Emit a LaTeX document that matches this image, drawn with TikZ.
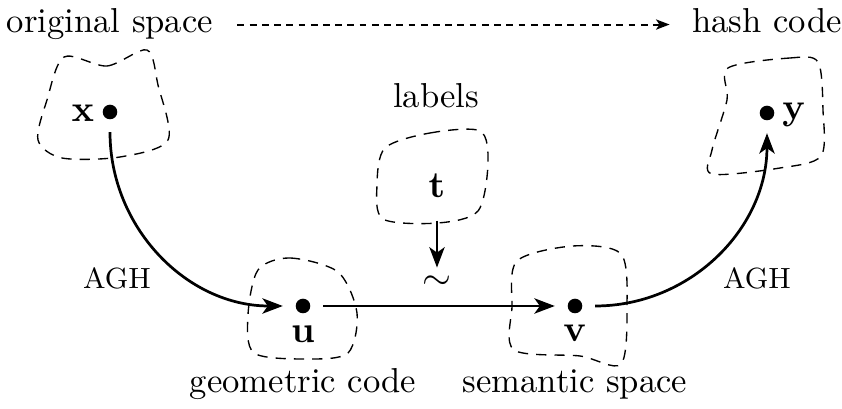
\documentclass[tikz,border=0pt]{standalone}
\usetikzlibrary{arrows.meta}
\begin{document}
\begin{tikzpicture}[x=0.2946pt,y=-0.2946pt,
  font=\fontsize{10.2}{12.2}\selectfont,
  dotnode/.style={circle,fill=black,inner sep=0pt,minimum size=4.3pt,outer sep=3.8pt},
  txt/.style={anchor=base,inner sep=0pt},
  mathtxt/.style={txt,font=\fontsize{11}{13}\selectfont},
  blob/.style={dashed,thin,dash pattern=on 3pt off 2.4pt},
  arr/.style={thick,-{Stealth[length=6pt,width=4.5pt,inset=1.6pt]}},
  toparr/.style={semithick,dash pattern=on 2pt off 1.6pt,-{Stealth[length=4pt,width=3pt,inset=1pt]}}
]
\useasboundingbox (0,0) rectangle (842,409);

% region outlines
\draw[blob] plot[smooth cycle,tension=0.5] coordinates
  {(64,57) (107,66) (147,50) (158,85) (168,140) (120,157) (62,158) (38,140) (47,100)};
\draw[blob] plot[smooth cycle,tension=0.5] coordinates
  {(728,68) (790,58) (818,62) (823,110) (821,156) (780,168) (712,174) (712,150) (727,100)};
\draw[blob] plot[smooth cycle,tension=0.5] coordinates
  {(385,148) (430,133) (480,131) (488,163) (478,211) (438,223) (383,219) (377,185)};
\draw[blob] plot[smooth cycle,tension=0.5] coordinates
  {(258,270) (290,258) (338,272) (357,313) (348,353) (307,359) (254,353) (248,315)};
\draw[blob] plot[smooth cycle,tension=0.5] coordinates
  {(517,261) (573,246) (621,254) (627,307) (621,364) (580,356) (514,350) (512,307)};

% titles
\node[txt] (orig) at (110,33) {original space};
\node[txt] (hash) at (767,33) {hash code};
\node[txt] (lab) at (436,108) {labels};
\node[txt] (geo) at (303,393) {geometric code};
\node[txt] (sem) at (575,393) {semantic space};

% points
\node[dotnode] (x) at (110,112) {};
\node[dotnode] (y) at (767,113) {};
\node[dotnode] (u) at (303,306) {};
\node[dotnode] (v) at (575,306) {};
\node[mathtxt] (xl) at (83,122) {$\mathbf{x}$};
\node[mathtxt] (yl) at (794,120) {$\mathbf{y}$};
\node[mathtxt] (ul) at (303,343) {$\mathbf{u}$};
\node[mathtxt] (vl) at (575,342) {$\mathbf{v}$};
\node[mathtxt] (t) at (437,198) {$\mathbf{t}$};
\node[font=\fontsize{11}{13}\selectfont] (tilde) at (437,283) {$\sim$};

% mapping labels
\node[font=\fontsize{8.6}{10}\selectfont] (agh1) at (117,278) {AGH};
\node[font=\fontsize{8.6}{10}\selectfont] (agh2) at (757,278) {AGH};

% connectors
\draw[toparr,shorten <=7pt,shorten >=6.5pt] (orig.east) -- (hash.west |- orig.east);
\draw[arr] (x) to[out=-90,in=180] (u);
\draw[arr] (u) -- (v);
\draw[arr] (v) to[out=0,in=-90] (y);
\draw[arr,shorten <=6.5pt,shorten >=-1pt] (t.south) -- (tilde.north);
\end{tikzpicture}
\end{document}
